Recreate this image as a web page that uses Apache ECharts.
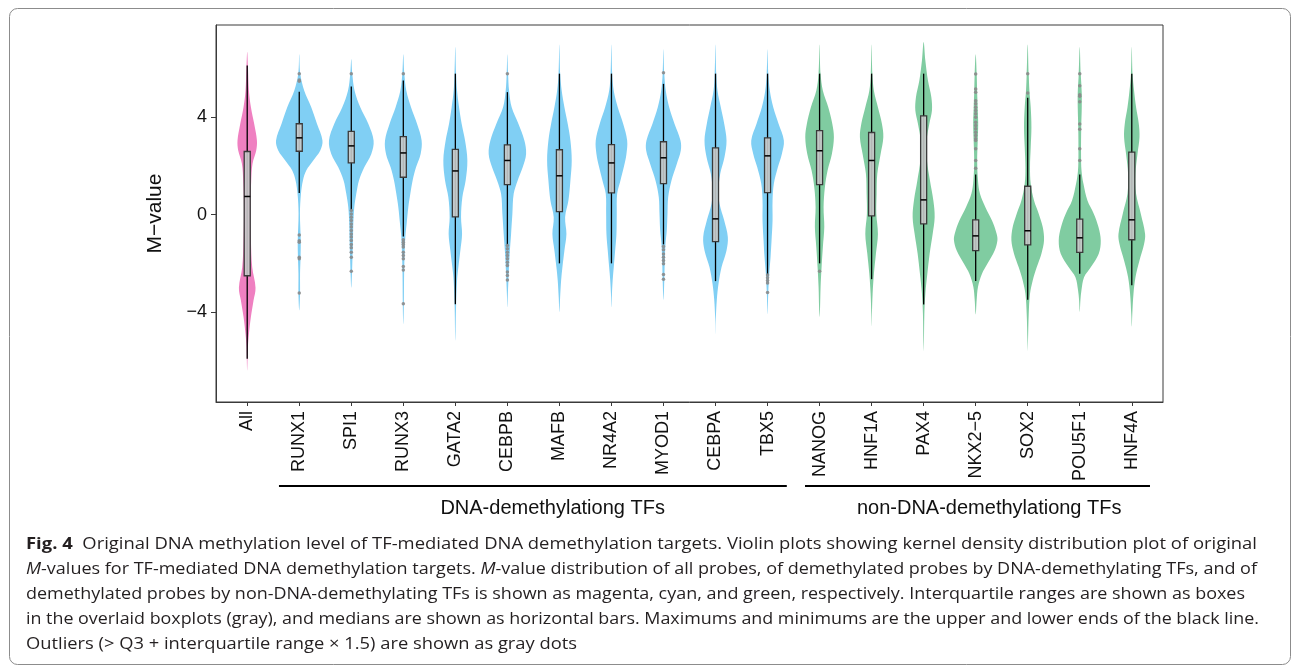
<!DOCTYPE html>
<html><head><meta charset="utf-8">
<script src="https://cdn.jsdelivr.net/npm/echarts@6/dist/echarts.min.js"></script>
<style>html,body{margin:0;padding:0;background:#fff}#c{width:1293px;height:666px}</style>
</head><body><div id="c"></div><script>
// ---------------- data ----------------
const categories = ['All','RUNX1','SPI1','RUNX3','GATA2','CEBPB','MAFB','NR4A2','MYOD1','CEBPA','TBX5','NANOG','HNF1A','PAX4','NKX2\u22125','SOX2','POU5F1','HNF4A'];
const groups = ['all','dna','dna','dna','dna','dna','dna','dna','dna','dna','dna','non','non','non','non','non','non','non'];
const yTicks = [-4, 0, 4];

const whiskerLow  = [-5.92, 0.89, 0.20, -0.90, -3.68, -1.22, -2.00, -2.00, -1.22, -2.73, -2.46, -2.00, -2.65, -3.69, -2.73, -3.50, -2.43, -2.90];
const q1          = [-2.51, 2.61, 2.13, 1.54, -0.09, 1.24, 0.13, 0.90, 1.28, -1.11, 0.91, 1.24, -0.05, -0.38, -1.48, -1.24, -1.55, -1.03];
const median      = [0.75, 3.16, 2.83, 2.54, 1.80, 2.23, 1.60, 2.13, 2.34, -0.17, 2.42, 2.63, 2.23, 0.61, -0.87, -0.66, -0.95, -0.21];
const q3          = [2.60, 3.74, 3.43, 3.21, 2.69, 2.87, 2.67, 2.88, 3.00, 2.75, 3.16, 3.46, 3.38, 4.06, -0.21, 1.17, -0.18, 2.57];
const whiskerHigh = [6.13, 5.06, 5.27, 5.52, 5.80, 5.04, 5.80, 5.80, 5.38, 5.80, 5.80, 5.80, 5.80, 5.80, 1.65, 4.81, 1.65, 5.80];

// outliers per category
const outAll = [];
const outRUNX1 = [5.80, 5.54, 5.49, -0.83, -1.07, -1.13, -1.75, -1.81, -3.22];
const outSPI1 = [5.80, 0.17, 0.03, -0.10, -0.24, -0.38, -0.51, -0.65, -0.79, -0.92, -1.06, -1.22, -1.36, -1.54, -1.75, -2.32];
const outRUNX3 = [5.80, -1.03, -1.13, -1.22, -1.33, -1.54, -1.68, -1.81, -2.13, -2.27, -3.66];
const outGATA2 = [];
const outCEBPB = [5.80, -1.27, -1.40, -1.54, -1.68, -1.81, -1.95, -2.09, -2.36, -2.50, -2.68];
const outMAFB = [];
const outNR4A2 = [];
const outMYOD1 = [5.84, -1.31, -1.44, -1.61, -1.75, -1.88, -2.02, -2.46, -2.65];
const outCEBPA = [];
const outTBX5 = [-2.48, -2.59, -2.70, -2.81, -3.20];
const outNANOG = [-2.32];
const outHNF1A = [];
const outPAX4 = [];
const outNKX25 = [5.79, 5.17, 5.04, 4.69, 4.56, 4.42, 4.28, 4.15, 4.01, 3.80, 3.67, 3.53, 3.39, 3.26, 3.12, 3.05, 2.71, 2.23, 1.91];
const outSOX2 = [5.80, 5.00];
const outPOU5F1 = [5.80, 5.30, 4.93, 4.87, 4.64, 3.73, 3.51, 2.71, 2.23];
const outHNF4A = [];
const outlierLists = [outAll,outRUNX1,outSPI1,outRUNX3,outGATA2,outCEBPB,outMAFB,outNR4A2,outMYOD1,outCEBPA,outTBX5,outNANOG,outHNF1A,outPAX4,outNKX25,outSOX2,outPOU5F1,outHNF4A];

// violin density profiles: [M-value, relative density (half-width)]
const vAll = [[6.7,0],[6.0,0.8],[5.1,1.7],[4.42,3.7],[3.73,7],[3.05,9.7],[2.64,9],[2.1,5.3],[1.4,4],[0.31,3.3],[-1.06,3.7],[-2.16,5],[-3.0,8.3],[-3.53,6.3],[-4.2,3.7],[-4.9,1.7],[-5.44,0.7],[-6.4,0]];
const vRUNX1 = [[6.6,0],[5.8,1],[5.1,5],[4.42,12],[3.74,17.7],[3.05,23.2],[2.64,21],[2.23,14],[1.82,7],[1.41,3.7],[0.86,1.7],[0.04,0.7],[-1.06,1.5],[-1.75,1.3],[-2.43,0.8],[-3.25,0.8],[-3.94,0]];
const vSPI1 = [[6.4,0],[5.8,1],[5.1,3.3],[4.42,9],[3.74,17],[3.05,22.3],[2.5,20],[1.95,13],[1.41,7.7],[0.86,5],[0.31,3],[-0.38,2],[-1.06,1.7],[-1.75,1.2],[-2.43,0.7],[-3.0,0]];
const vRUNX3 = [[6.6,0],[5.8,1],[5.1,3],[4.42,7.7],[3.74,13.7],[3.05,18.3],[2.5,17.3],[1.95,12.7],[1.41,9.3],[0.86,7],[0.31,5],[-0.38,3.3],[-0.92,2],[-1.6,1.3],[-2.43,0.8],[-3.8,0.5],[-4.5,0]];
const vGATA2 = [[6.9,0],[5.8,0.8],[5.1,1.7],[4.42,3.7],[3.74,6.3],[3.05,9.7],[2.23,12],[1.41,10.3],[0.72,7],[-0.1,5.7],[-0.79,6.7],[-1.47,5],[-2.16,3],[-2.7,1.7],[-3.8,0.7],[-5.17,0]];
const vCEBPB = [[6.6,0],[5.8,0.7],[5.1,1.7],[4.42,4.3],[3.74,11],[3.05,17],[2.5,18.7],[1.95,15.3],[1.41,10.3],[0.86,6.3],[0.04,5],[-0.79,3.7],[-1.6,2.3],[-2.43,1.3],[-3.25,0.5],[-3.8,0]];
const vMAFB = [[7.0,0],[5.8,0.8],[5.1,2.3],[4.42,5],[3.74,8.3],[3.05,11],[2.23,12.3],[1.41,11],[0.58,9],[-0.1,5.7],[-0.79,7],[-1.47,5],[-2.16,3],[-2.7,1.7],[-3.4,0.7],[-4.0,0]];
const vNR4A2 = [[7.0,0],[5.8,0.8],[5.1,2.3],[4.42,6.3],[3.74,11.7],[3.05,15.7],[2.5,15],[1.95,12.3],[1.41,9],[0.86,5.7],[0.04,5.3],[-0.79,5],[-1.47,3.7],[-2.16,2.3],[-2.7,1.2],[-3.25,0.5],[-3.8,0]];
const vMYOD1 = [[6.8,0],[5.8,0.8],[5.1,2.3],[4.42,5.7],[3.74,11],[3.05,17],[2.64,17.3],[2.09,13.3],[1.41,8],[0.72,4.7],[0.04,4],[-0.65,3.3],[-1.2,2],[-1.88,1.3],[-2.7,0.8],[-3.5,0]];
const vCEBPA = [[7.0,0],[5.8,0.8],[5.1,2],[4.42,5.3],[3.74,8.7],[3.05,11],[2.37,9],[1.68,4.7],[0.99,3],[0.45,4],[-0.24,8.7],[-0.92,12.3],[-1.47,11],[-2.16,6],[-2.84,3],[-3.5,1.3],[-4.3,0.3],[-4.9,0]];
const vTBX5 = [[6.8,0],[5.8,0.8],[5.1,2.3],[4.42,5.7],[3.74,11],[3.05,16.3],[2.5,14.3],[1.95,10.3],[1.27,6.3],[0.58,5],[-0.24,5],[-1.06,4],[-1.75,3],[-2.43,1.7],[-3.25,0.7],[-4.1,0]];
const vNANOG = [[7.0,0],[5.8,1],[5.1,3.3],[4.42,8.7],[3.74,12.7],[3.19,14.3],[2.5,12.3],[1.82,8],[1.13,5.3],[0.31,4],[-0.51,4.7],[-1.33,3.3],[-2.16,2],[-2.97,1],[-3.8,0.5],[-4.2,0]];
const vHNF1A = [[7.0,0],[5.8,0.8],[5.1,2.3],[4.42,6.3],[3.74,10.3],[3.19,11.7],[2.5,9],[1.68,5.7],[0.86,5],[0.04,4.7],[-0.79,6.3],[-1.6,4.3],[-2.43,2.3],[-3.25,1],[-4.1,0.3],[-4.6,0]];
const vPAX4 = [[7.1,0],[6.34,1.7],[5.52,4.3],[4.83,7.7],[4.28,8.3],[3.74,5.7],[3.05,3],[2.23,3.3],[1.41,6.3],[0.58,9.7],[-0.1,11],[-0.79,9],[-1.6,6],[-2.43,3.7],[-3.25,1.7],[-4.1,0.7],[-5.17,0.3],[-5.6,0]];
const vNKX25 = [[6.6,0],[5.8,1],[5.0,1.5],[4.4,2],[3.74,2.5],[3.0,2],[2.2,1.5],[1.41,2.3],[0.86,4.3],[0.31,9.7],[-0.24,16.3],[-0.79,21],[-1.06,21.7],[-1.47,19],[-2.02,11.7],[-2.43,6.3],[-2.97,2.3],[-3.5,1],[-4.1,0]];
const vSOX2 = [[7.0,0],[5.8,1],[5.1,1.7],[4.42,3],[3.6,3.7],[2.78,3],[1.95,2.3],[1.27,3],[0.58,6.3],[0.04,11],[-0.51,15],[-1.06,16.3],[-1.6,13.7],[-2.16,9],[-2.7,5],[-3.25,2.3],[-4.1,1],[-5.17,0.3],[-5.6,0]];
const vPOU5F1 = [[6.9,0],[5.8,1],[5.0,2],[4.4,2],[3.6,1.5],[2.5,1.3],[1.8,1.8],[1.27,3.7],[0.58,7.7],[0.04,14],[-0.51,18.7],[-1.06,21],[-1.6,19],[-2.16,11],[-2.57,4.3],[-3.11,1.7],[-3.5,0.7],[-4.0,0]];
const vHNF4A = [[6.9,0],[5.8,0.8],[5.1,2.3],[4.42,4.3],[3.74,7],[3.19,7.7],[2.5,5.7],[1.68,3.7],[0.86,4.3],[0.04,9],[-0.79,13.3],[-1.2,12.3],[-1.88,7.7],[-2.57,3.7],[-3.25,1.7],[-4.1,0.5],[-4.6,0]];
const violinProfiles = [vAll,vRUNX1,vSPI1,vRUNX3,vGATA2,vCEBPB,vMAFB,vNR4A2,vMYOD1,vCEBPA,vTBX5,vNANOG,vHNF1A,vPAX4,vNKX25,vSOX2,vPOU5F1,vHNF4A];

const groupLabels = ['DNA-demethylationg TFs', 'non-DNA-demethylationg TFs'];
const captionLines = [
  [['b','Fig. 4'],['n','  Original DNA methylation level of TF-mediated DNA demethylation targets. Violin plots showing kernel density distribution plot of original']],
  [['i','M'],['n','-values for TF-mediated DNA demethylation targets. '],['i','M'],['n','-value distribution of all probes, of demethylated probes by DNA-demethylating TFs, and of']],
  [['n','demethylated probes by non-DNA-demethylating TFs is shown as magenta, cyan, and green, respectively. Interquartile ranges are shown as boxes']],
  [['n','in the overlaid boxplots (gray), and medians are shown as horizontal bars. Maximums and minimums are the upper and lower ends of the black line.']],
  [['n','Outliers (> Q3 + interquartile range \u00d7 1.5) are shown as gray dots']]
];

// ---------------- styling ----------------
const groupColor = {all:'#EF80C1', dna:'#80CFF4', non:'#80CCA1'};
const densityScale = 1/52;   // density units -> category units
const boxHalf = 0.058;
const FONT = '"Liberation Sans", Arial, Helvetica, sans-serif';
const CAPFONT = '"Open Sans", "Noto Sans", sans-serif';

const chart = echarts.init(document.getElementById('c'), null, {renderer:'canvas'});
const positions = categories.map((c,i)=>i+1);

function renderViolin(params, api){
  const i = params.dataIndex;
  const xc = api.value(0);
  const prof = violinProfiles[i];
  const right = prof.map(p => api.coord([xc + p[1]*densityScale, p[0]]));
  const left = prof.slice(1, prof.length-1).map(p => api.coord([xc - p[1]*densityScale, p[0]])).reverse();
  return {type:'polygon', shape:{points: right.concat(left), smooth: 0.35},
    style:{fill: groupColor[groups[i]], stroke:'none'}};
}
function renderBox(params, api){
  const x = api.value(0);
  const lo = api.coord([x, api.value(1)]), hi = api.coord([x, api.value(5)]);
  const bl = api.coord([x - boxHalf, api.value(2)]), tr = api.coord([x + boxHalf, api.value(4)]);
  const ml = api.coord([x - boxHalf, api.value(3)]), mr = api.coord([x + boxHalf, api.value(3)]);
  return {type:'group', children:[
    {type:'line', shape:{x1:lo[0],y1:lo[1],x2:hi[0],y2:hi[1]}, style:{stroke:'#000',lineWidth:1.3}},
    {type:'rect', shape:{x:bl[0], y:tr[1], width:tr[0]-bl[0], height:bl[1]-tr[1]}, style:{fill:'rgba(200,202,202,0.9)', stroke:'#3a3a3a', lineWidth:1.3}},
    {type:'line', shape:{x1:ml[0],y1:ml[1],x2:mr[0],y2:mr[1]}, style:{stroke:'#000',lineWidth:1.5}}
  ]};
}

const outlierData = [];
outlierLists.forEach((arr,i)=>arr.forEach(v=>outlierData.push([i+1, v])));

chart.setOption({
  animation:false,
  backgroundColor:'#fff',
  grid:{left:216, top:25, right:130, bottom:264, show:true, borderColor:'#3a3a3a', borderWidth:1, containLabel:false},
  xAxis:{type:'value', min:0.4, max:18.6,
    axisLine:{show:true, onZero:false, lineStyle:{color:'#3a3a3a', width:1}},
    axisTick:{show:true, customValues:positions, length:4, lineStyle:{color:'#3a3a3a'}},
    axisLabel:{show:true, customValues:positions, rotate:90, margin:9, fontSize:18, fontFamily:FONT, color:'#111',
      formatter:v=>categories[Math.round(v)-1]},
    splitLine:{show:false}},
  yAxis:{type:'value', min:-7.7, max:7.8,
    name:'M\u2212value', nameLocation:'middle', nameGap:50, nameRotate:90,
    nameTextStyle:{fontSize:21, fontFamily:FONT, color:'#111'},
    axisLine:{show:true, onZero:false, lineStyle:{color:'#3a3a3a', width:1}},
    axisTick:{show:true, customValues:yTicks, length:5, lineStyle:{color:'#3a3a3a'}},
    axisLabel:{show:true, customValues:yTicks, margin:9, fontSize:18, fontFamily:FONT, color:'#111',
      formatter:v=> v<0 ? '\u2212'+(-v) : String(v)},
    splitLine:{show:false}},
  series:[
    {type:'custom', name:'violin', renderItem:renderViolin, silent:true, z:1,
      data: categories.map((c,i)=>[i+1, median[i]]), encode:{x:0, y:1}},
    {type:'custom', name:'box', renderItem:renderBox, silent:true, z:2,
      data: categories.map((c,i)=>[i+1, whiskerLow[i], q1[i], median[i], q3[i], whiskerHigh[i]]),
      encode:{x:0, y:[1,2,3,4,5]}},
    {type:'scatter', name:'outliers', data: outlierData, symbol:'circle', symbolSize:3.5, silent:true, z:3,
      itemStyle:{color:'#8a8a8a', opacity:0.9}}
  ]
});

// ---------------- annotations ----------------
const px = v => chart.convertToPixel({xAxisIndex:0}, v);
const g1 = [px(1.61), px(11.37)], g2 = [px(11.72), px(18.35)];
const lineY = 486, labelY = 508;

// caption: each line scaled horizontally to its width in the reference
const ctx = document.createElement('canvas').getContext('2d');
const capSize = 16;
const segFont = {b:'bold '+capSize+'px '+CAPFONT, i:'italic '+capSize+'px '+CAPFONT, n:capSize+'px '+CAPFONT};
function lineWidth(line){ return line.reduce((s,seg)=>{ctx.font=segFont[seg[0]]; return s+ctx.measureText(seg[1]).width;},0); }
const capLeft = 26;
const capRight = [1257, 1257, 1245, 1259, 577];
const capY = [544, 569, 594, 619, 644];

const graphics = [
  {type:'rect', silent:true, shape:{x:9.5, y:8.5, width:1281, height:656, r:8}, style:{fill:'none', stroke:'#8c8c8c', lineWidth:1}},
  {type:'line', silent:true, shape:{x1:g1[0], y1:lineY, x2:g1[1], y2:lineY}, style:{stroke:'#000', lineWidth:2.2}},
  {type:'line', silent:true, shape:{x1:g2[0], y1:lineY, x2:g2[1], y2:lineY}, style:{stroke:'#000', lineWidth:2.2}},
  {type:'text', silent:true, x:px(6.87), y:labelY, style:{text:groupLabels[0], font:'20px '+FONT, fill:'#111', align:'center', verticalAlign:'middle', textAlign:'center', textVerticalAlign:'middle'}},
  {type:'text', silent:true, x:px(15.26), y:labelY, style:{text:groupLabels[1], font:'20px '+FONT, fill:'#111', align:'center', verticalAlign:'middle', textAlign:'center', textVerticalAlign:'middle'}}
];
captionLines.forEach((line, k)=>{
  const text = line.map(seg=>'{'+seg[0]+'|'+seg[1]+'}').join('');
  const sc = (capRight[k]-capLeft)/lineWidth(line);
  graphics.push({type:'text', silent:true, x:capLeft, y:capY[k], scaleX:sc, originX:0, originY:0,
    style:{text:text, fill:'#231f20', align:'left', verticalAlign:'middle', textAlign:'left', textVerticalAlign:'middle',
      rich:{
        b:{fontSize:capSize, fontFamily:CAPFONT, fontWeight:'bold', fill:'#231f20', color:'#231f20'},
        i:{fontSize:capSize, fontFamily:CAPFONT, fontStyle:'italic', fill:'#231f20', color:'#231f20'},
        n:{fontSize:capSize, fontFamily:CAPFONT, fill:'#231f20', color:'#231f20'}
      }}});
});
chart.setOption({graphic:{elements:graphics}});
</script></body></html>
